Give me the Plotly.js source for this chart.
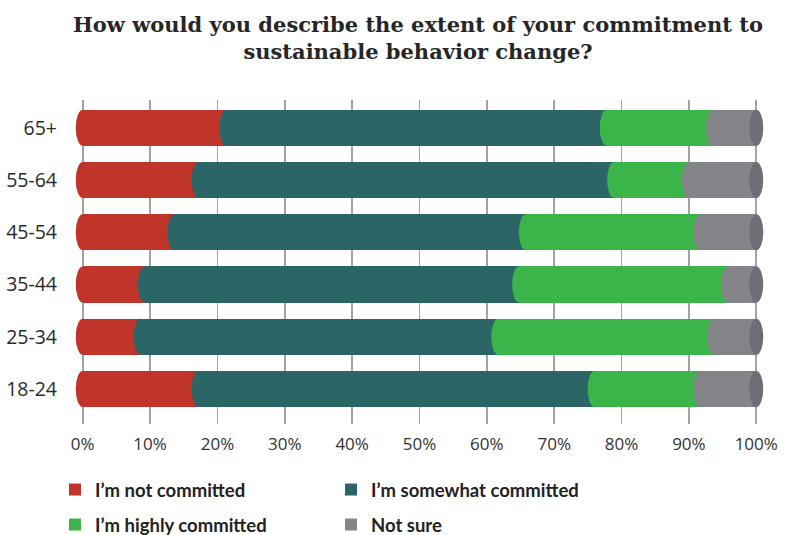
<!DOCTYPE html>
<html>
<head>
<meta charset="utf-8">
<script src="https://cdn.plot.ly/plotly-3.0.1.min.js"></script>
<style>html,body{margin:0;padding:0;background:#fff;}#chart{width:785px;height:535px;}</style>
</head>
<body>
<div id="chart"></div>
<script>
// Data
const ageGroups = ['18-24', '25-34', '35-44', '45-54', '55-64', '65+'];
const seriesNames = ['I’m not committed', 'I’m somewhat committed', 'I’m highly committed', 'Not sure'];
const notCommitted      = [17.2, 8.6, 9.2, 13.6, 17.2, 21.3];
const somewhatCommitted = [58.8, 53.1, 55.6, 52.2, 61.7, 56.5];
const highlyCommitted   = [15.7, 32.1, 31.0, 25.9, 11.1, 15.8];
const notSure           = [8.3, 6.2, 4.2, 8.3, 10.0, 6.4];
const xTickVals = [0, 10, 20, 30, 40, 50, 60, 70, 80, 90, 100];
const xTickText = ['0%', '10%', '20%', '30%', '40%', '50%', '60%', '70%', '80%', '90%', '100%'];

const colors = ['#c0342a', '#2b6566', '#3bb54a', '#838488'];
const capColor = '#6d6e78';
const seriesValues = [notCommitted, somewhatCommitted, highlyCommitted, notSure];

const traces = seriesValues.map((vals, k) => ({
  type: 'bar',
  orientation: 'h',
  name: seriesNames[k],
  y: ageGroups,
  x: vals,
  marker: {color: colors[k], line: {width: 0}},
  legend: k < 2 ? 'legend' : 'legend2',
  hoverinfo: 'skip'
}));

// Rounded (elliptical) caps at each segment start, computed from the data
const hw = 1.04;   // half width of caps in data units
const hh = 0.345;  // half height of caps (half bar width)
const shapes = [];
ageGroups.forEach((g, i) => {
  let base = 0;
  seriesValues.forEach((vals, k) => {
    shapes.push({type: 'circle', xref: 'x', yref: 'y', x0: base - hw, x1: base + hw,
      y0: i - hh, y1: i + hh, fillcolor: colors[k], line: {width: 0}, layer: 'above'});
    base += vals[i];
  });
  shapes.push({type: 'circle', xref: 'x', yref: 'y', x0: base - hw, x1: base + hw,
    y0: i - hh, y1: i + hh, fillcolor: capColor, line: {width: 0}, layer: 'above'});
});

const legendFont = {family: 'Lato', size: 18.5, color: '#222222', weight: 'bold'};

const layout = {
  width: 785, height: 535,
  margin: {l: 74, r: 20, t: 100, b: 111},
  paper_bgcolor: '#ffffff', plot_bgcolor: '#ffffff',
  barmode: 'stack',
  bargap: 0.31,
  title: {
    text: '<b>How would you describe the extent of your commitment to<br>sustainable behavior change?</b>',
    font: {family: 'DejaVu Serif', size: 21, color: '#262626'},
    x: 418 / 785, xanchor: 'center', xref: 'container',
    y: 0.941, yanchor: 'top', yref: 'container'
  },
  xaxis: {
    range: [-1.3, 101.3],
    tickvals: xTickVals, ticktext: xTickText,
    showgrid: true, gridcolor: '#a3a3a6', gridwidth: 1.5,
    zeroline: true, zerolinecolor: '#a3a3a6', zerolinewidth: 1.5,
    showline: false, ticks: '',
    ticklabelstandoff: 8,
    tickfont: {family: 'Open Sans', size: 17, color: '#333333'},
    fixedrange: true
  },
  yaxis: {
    type: 'category',
    range: [-0.67, 5.53],
    showgrid: false, zeroline: false, showline: false, ticks: '',
    ticklabelstandoff: 16,
    tickfont: {family: 'Open Sans', size: 19.5, color: '#2a2a2a'},
    fixedrange: true
  },
  legend: {
    orientation: 'h', xref: 'container', yref: 'container',
    x: 55 / 785, xanchor: 'left', y: 1 - 490 / 535, yanchor: 'middle',
    entrywidth: 231, traceorder: 'normal',
    font: legendFont
  },
  legend2: {
    orientation: 'h', xref: 'container', yref: 'container',
    x: 55 / 785, xanchor: 'left', y: 1 - 525 / 535, yanchor: 'middle',
    entrywidth: 231, traceorder: 'normal',
    font: legendFont
  },
  shapes: shapes,
  showlegend: true
};

Plotly.newPlot('chart', traces, layout, {displayModeBar: false, staticPlot: true});
</script>
</body>
</html>
